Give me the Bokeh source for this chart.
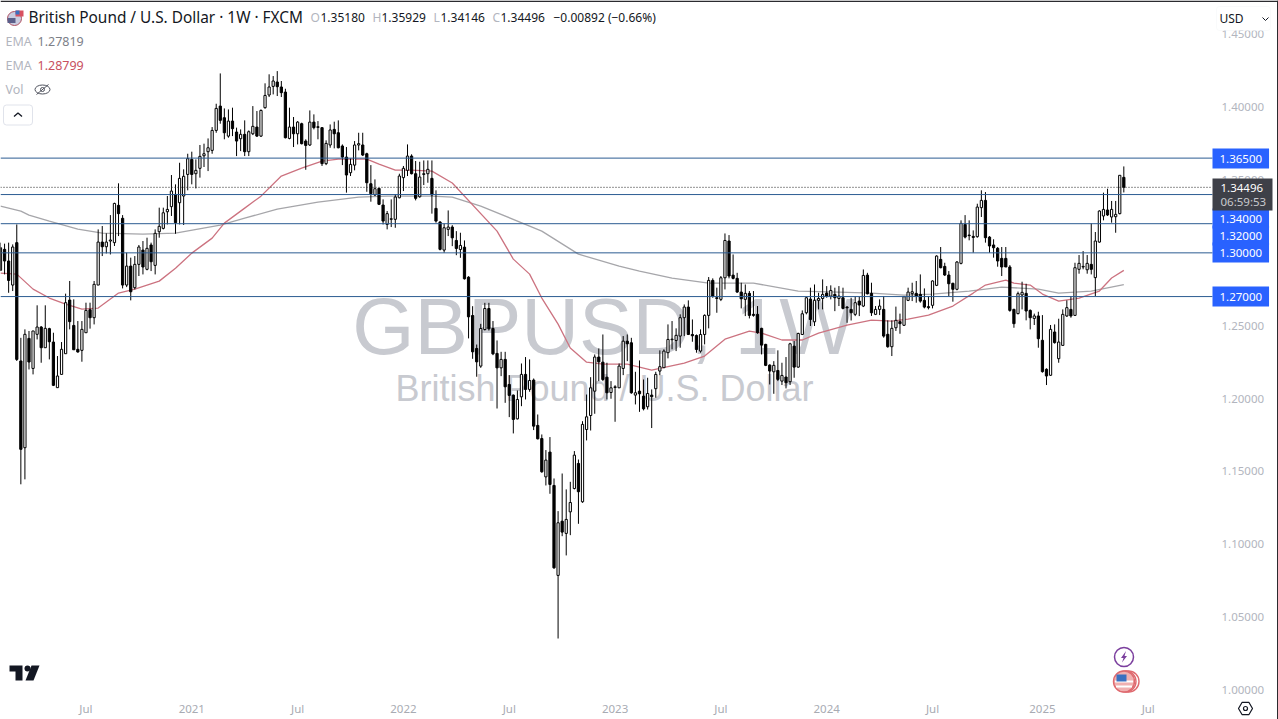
from bokeh.embed import file_html
from bokeh.resources import INLINE
from bokeh.plotting import figure
from bokeh.models import (ColumnDataSource, Label, FixedTicker, Range1d, BoxAnnotation)

opens = [1.2880,1.3024,1.2944,1.2779,1.3070,1.2258,1.1663,1.2413,1.2207,1.2441,1.2491,1.2349,1.2480,1.2388,1.2075,1.2166,1.2308,1.2676,1.2502,1.2338,
1.2331,1.2452,1.2610,1.2555,1.2779,1.3074,1.3042,1.3081,1.3070,1.3326,1.3237,1.2779,1.2909,1.2761,1.2921,1.3019,1.2887,1.3054,1.2914,1.3145,
1.3168,1.3282,1.3317,1.3401,1.3344,1.3390,1.3538,1.3641,1.3543,1.3580,1.3666,1.3694,1.3703,1.3840,
1.4007,1.3927,1.3801,1.3904,1.3829,1.3783,1.3813,1.3694,1.3817,1.3863,1.3801,1.3996,1.4083,1.4142,1.4172,1.4138,1.4103,1.3785,1.3863,1.3817,
1.3886,1.3767,1.3740,1.3897,1.3865,1.3859,1.3612,1.3740,1.3847,1.3824,1.3733,1.3657,1.3550,1.3602,1.3740,1.3740,1.3680,1.3474,1.3397,1.3442,
1.3328,1.3195,1.3230,1.3230,1.3378,1.3516,1.3566,1.3664,1.3543,1.3385,1.3538,1.3543,1.3511,1.3305,1.3211,1.3019,1.3161,
1.3177,1.3085,1.3023,1.3039,1.2833,1.2570,1.2344,1.2223,1.2474,1.2618,1.2481,1.2310,1.2211,1.2269,1.2097,1.2024,1.1861,1.2012,1.2166,1.2063,
1.2127,1.1816,1.1726,1.1463,1.1633,1.1404,1.0787,1.1159,1.1075,1.1223,1.1383,1.1555,1.1292,1.1788,1.1884,1.2051,1.2285,1.2250,1.2147,1.2042,
1.2076,1.2074,1.2207,1.2394,1.2383,1.2024,1.2051,1.2017,1.1944,
1.2024,1.2068,1.2189,1.2212,1.2315,1.2404,1.2399,1.2429,1.2555,1.2628,1.2440,1.2433,1.2326,1.2440,1.2571,1.2811,1.2692,1.2681,1.2829,1.3081,
1.2847,1.2825,1.2731,1.2681,1.2722,1.2578,1.2578,1.2482,1.2372,1.2230,1.2184,1.2193,1.2120,1.2148,1.2116,1.2360,1.2216,1.2440,1.2589,1.2683,
1.2527,1.2674,1.2687,1.2724,1.2703,1.2715,1.2687,1.2692,1.2628,1.2612,1.2578,1.2669,1.2635,1.2847,
1.2722,1.2578,1.2612,1.2612,1.2441,1.2356,1.2486,1.2528,1.2503,1.2674,1.2720,1.2722,1.2715,1.2674,1.2631,1.2640,1.2777,1.2955,1.2907,1.2848,
1.2791,1.2750,1.2928,1.3195,1.3122,1.3113,1.3111,1.3310,1.3360,1.3108,1.3054,1.3031,1.2962,1.2962,1.2903,1.2612,1.2583,1.2711,1.2722,1.2605,
1.2550,1.2567,1.2400,1.2201,1.2160,1.2457,1.2274,1.2365,1.2567,1.2612,1.2571,1.2887,1.2903,1.2884,1.2921,1.2830,1.3074,1.3253,1.3294,1.3246,
1.3248,1.3269,1.35180]
highs = [1.3070,1.3063,1.3070,1.3058,1.3195,1.2417,1.2475,1.2464,1.2464,1.2640,1.2498,1.2640,1.2486,1.2452,1.2292,1.2388,1.2720,1.2807,1.2681,1.2532,
1.2532,1.2658,1.2658,1.2807,1.3161,1.3184,1.3134,1.3259,1.3344,1.3477,1.3259,1.3001,1.2967,1.2978,1.3054,1.3081,1.3104,1.3070,1.3161,1.3310,
1.3310,1.3390,1.3534,1.3470,1.3618,1.3573,1.3680,1.3694,1.3641,1.3740,1.3749,1.3785,1.3863,1.4023,
1.4231,1.3991,1.3984,1.3996,1.3859,1.3847,1.3909,1.3840,1.4007,1.3973,1.3984,1.4163,1.4225,1.4213,1.4247,1.4179,1.4126,1.3996,1.3932,1.3904,
1.3893,1.3779,1.3977,1.3950,1.3904,1.3863,1.3772,1.3881,1.3900,1.3909,1.3744,1.3726,1.3648,1.3767,1.3824,1.3824,1.3687,1.3602,1.3504,1.3447,
1.3367,1.3287,1.3367,1.3401,1.3543,1.3596,1.3744,1.3676,1.3630,1.3625,1.3634,1.3634,1.3634,1.3429,1.3218,1.3200,1.3291,
1.3190,1.3149,1.3138,1.3085,1.2840,1.2634,1.2371,1.2513,1.2657,1.2657,1.2532,1.2399,1.2321,1.2321,1.2161,1.2028,1.2056,1.2241,1.2285,1.2269,
1.2138,1.1891,1.1754,1.1647,1.1736,1.1452,1.1228,1.1486,1.1377,1.1429,1.1640,1.1582,1.1845,1.2028,1.2147,1.2303,1.2344,1.2440,1.2246,1.2120,
1.2092,1.2241,1.2429,1.2440,1.2417,1.2184,1.2262,1.2131,1.2143,
1.2063,1.2184,1.2331,1.2338,1.2509,1.2532,1.2482,1.2578,1.2646,1.2674,1.2543,1.2440,1.2475,1.2578,1.2834,1.2825,1.2761,1.2841,1.3133,1.3122,
1.2989,1.2863,1.2795,1.2783,1.2738,1.2738,1.2635,1.2486,1.2376,1.2235,1.2257,1.2331,1.2246,1.2285,1.2383,1.2395,1.2452,1.2605,1.2697,1.2761,
1.2783,1.2726,1.2818,1.2772,1.2777,1.2761,1.2772,1.2761,1.2635,1.2692,1.2703,1.2697,1.2886,1.2863,
1.2795,1.2635,1.2681,1.2704,1.2537,1.2537,1.2631,1.2583,1.2704,1.2761,1.2795,1.2807,1.2852,1.2756,1.2704,1.2811,1.2983,1.3040,1.2932,1.2875,
1.2795,1.2944,1.3223,1.3259,1.3223,1.3154,1.3337,1.3429,1.3417,1.3115,1.3093,1.3040,1.3040,1.3040,1.2916,1.2617,1.2734,1.2802,1.2788,1.2612,
1.2583,1.2596,1.2573,1.2208,1.2505,1.2509,1.2548,1.2612,1.2674,1.2704,1.2932,1.2985,1.3012,1.2985,1.3202,1.3143,1.3292,1.3413,1.3440,1.3356,
1.3356,1.3534,1.35929]
lows = [1.2875,1.2852,1.2726,1.2738,1.2258,1.1412,1.1446,1.2200,1.2166,1.2406,1.2246,1.2349,1.2269,1.2086,1.2075,1.2166,1.2308,1.2475,1.2335,1.2315,
1.2253,1.2452,1.2480,1.2509,1.2779,1.2978,1.2996,1.2989,1.3047,1.3115,1.2756,1.2765,1.2674,1.2749,1.2841,1.2852,1.2880,1.2875,1.2852,1.3104,
1.3161,1.3195,1.3253,1.3131,1.3195,1.3191,1.3429,1.3470,1.3442,1.3516,1.3589,1.3561,1.3680,1.3824,
1.3886,1.3779,1.3790,1.3801,1.3664,1.3698,1.3664,1.3664,1.3808,1.3795,1.3795,1.3989,1.4069,1.4087,1.4076,1.4069,1.3785,1.3779,1.3726,1.3744,
1.3744,1.3570,1.3733,1.3847,1.3779,1.3596,1.3602,1.3721,1.3717,1.3717,1.3602,1.3413,1.3527,1.3566,1.3703,1.3664,1.3419,1.3351,1.3390,1.3328,
1.3195,1.3161,1.3177,1.3172,1.3374,1.3424,1.3527,1.3538,1.3360,1.3378,1.3465,1.3481,1.3269,1.3207,1.3017,1.3001,1.3115,
1.3046,1.2984,1.2966,1.2817,1.2413,1.2273,1.2150,1.2211,1.2467,1.2467,1.2298,1.1932,1.2154,1.1971,1.1873,1.1761,1.1857,1.1948,1.1994,1.2047,
1.1784,1.1720,1.1491,1.1404,1.1347,1.0832,1.0354,1.1056,1.0924,1.1063,1.1377,1.1141,1.1285,1.1713,1.1781,1.1896,1.2120,1.2120,1.1994,1.1999,
1.1841,1.2074,1.2161,1.2257,1.2033,1.1960,1.1909,1.1919,1.1925,
1.1798,1.2006,1.2161,1.2212,1.2276,1.2338,1.2326,1.2349,1.2429,1.2436,1.2390,1.2315,1.2315,1.2372,1.2482,1.2692,1.2589,1.2669,1.2749,1.2825,
1.2818,1.2726,1.2619,1.2566,1.2550,1.2562,1.2445,1.2303,1.2223,1.2097,1.2033,1.2120,1.2093,1.2070,1.2093,1.2143,1.2212,1.2436,1.2578,1.2498,
1.2498,1.2612,1.2612,1.2692,1.2681,1.2600,1.2635,1.2612,1.2520,1.2536,1.2566,1.2566,1.2628,1.2715,
1.2567,1.2573,1.2573,1.2418,1.2349,1.2292,1.2464,1.2445,1.2498,1.2669,1.2669,1.2658,1.2658,1.2619,1.2612,1.2619,1.2772,1.2894,1.2841,1.2704,
1.2665,1.2743,1.2921,1.3099,1.3086,1.3001,1.3104,1.3246,1.3070,1.3001,1.2967,1.2905,1.2841,1.2903,1.2596,1.2486,1.2578,1.2612,1.2537,1.2475,
1.2505,1.2349,1.2178,1.2093,1.2155,1.2377,1.2246,1.2361,1.2560,1.2555,1.2567,1.2857,1.2887,1.2857,1.2852,1.2704,1.3070,1.3223,1.3253,1.3207,
1.3138,1.3264,1.34146]
closes = [1.3035,1.2944,1.2811,1.3040,1.2269,1.1652,1.2441,1.2251,1.2464,1.2491,1.2349,1.2482,1.2390,1.2091,1.2155,1.2338,1.2658,1.2528,1.2335,1.2320,
1.2475,1.2605,1.2555,1.2784,1.3074,1.3042,1.3074,1.3088,1.3339,1.3269,1.2779,1.2909,1.2733,1.2921,1.3040,1.2903,1.3031,1.2939,1.3134,1.3182,
1.3275,1.3298,1.3424,1.3207,1.3511,1.3525,1.3646,1.3538,1.3566,1.3662,1.3680,1.3721,1.3840,1.3991,
1.3909,1.3824,1.3904,1.3852,1.3767,1.3813,1.3694,1.3831,1.3868,1.3801,1.3977,1.4080,1.4138,1.4179,1.4140,1.4099,1.3790,1.3863,1.3817,1.3897,
1.3749,1.3737,1.3897,1.3859,1.3861,1.3612,1.3751,1.3843,1.3817,1.3721,1.3657,1.3534,1.3607,1.3740,1.3749,1.3671,1.3481,1.3406,1.3440,1.3333,
1.3218,1.3269,1.3234,1.3383,1.3527,1.3580,1.3664,1.3543,1.3374,1.3520,1.3543,1.3573,1.3397,1.3218,1.3024,1.3172,1.3177,
1.3103,1.3030,1.3051,1.2822,1.2561,1.2321,1.2252,1.2481,1.2618,1.2479,1.2307,1.2211,1.2269,1.2081,1.2022,1.1857,1.1994,1.2166,1.2063,1.2124,
1.1811,1.1724,1.1498,1.1578,1.1411,1.0839,1.1148,1.1084,1.1171,1.1287,1.1612,1.1361,1.1823,1.1875,1.2074,1.2285,1.2252,1.2131,1.2040,1.2074,
1.2081,1.2223,1.2394,1.2376,1.2040,1.2040,1.2033,1.1930,1.2035,
1.2013,1.2166,1.2219,1.2326,1.2406,1.2408,1.2434,1.2555,1.2628,1.2440,1.2431,1.2337,1.2440,1.2571,1.2811,1.2703,1.2687,1.2829,1.3085,1.2841,
1.2825,1.2731,1.2685,1.2722,1.2571,1.2571,1.2452,1.2367,1.2228,1.2189,1.2228,1.2132,1.2159,1.2109,1.2376,1.2216,1.2447,1.2582,1.2692,1.2543,
1.2674,1.2687,1.2715,1.2703,1.2742,1.2692,1.2703,1.2619,1.2623,1.2589,1.2658,1.2642,1.2845,1.2719,
1.2589,1.2612,1.2635,1.2429,1.2356,1.2482,1.2537,1.2514,1.2699,1.2731,1.2733,1.2704,1.2669,1.2628,1.2624,1.2807,1.2978,1.2898,1.2848,1.2788,
1.2750,1.2937,1.3202,1.3108,1.3118,1.3106,1.3314,1.3360,1.3104,1.3047,1.3035,1.2944,1.2903,1.2903,1.2605,1.2514,1.2720,1.2729,1.2601,1.2555,
1.2567,1.2411,1.2185,1.2155,1.2475,1.2384,1.2388,1.2578,1.2624,1.2567,1.2898,1.2928,1.2907,1.2928,1.2887,1.3081,1.3287,1.3298,1.3260,1.3298,
1.3264,1.3532,1.34496]

ema_red_weeks = [0,4,8,12,16,20,24,29,33,39,43,47,52,55,60,64,69,74,79,83,90,93,97,101,106,111,122,126,130,133,137,140,144,148,154,160,168,173,178,184,187,192,197,201,208,214,219,223,228,234,239,242,247,249,253,256,260,265,270,273,276]
ema_red = [1.2861,1.2854,1.2751,1.2690,1.2648,1.2614,1.2621,1.2724,1.2751,1.2806,1.2895,1.2998,1.3101,1.3204,1.3307,1.3389,1.3527,1.3581,1.3630,1.3643,1.3643,1.3609,1.3568,1.3568,1.3561,1.3479,1.3149,1.2957,1.2854,1.2690,1.2511,1.2347,1.2250,1.2237,1.2237,1.2196,1.2244,1.2292,1.2408,1.2463,1.2449,1.2402,1.2402,1.2449,1.2504,1.2539,1.2532,1.2545,1.2573,1.2635,1.2724,1.2779,1.2813,1.2792,1.2779,1.2717,1.2669,1.2690,1.2738,1.2827,1.28799]
ema_gray_weeks = [0,5,7,12,19,25,35,43,54,60,68,78,88,95,106,111,118,133,142,152,157,165,174,185,196,206,214,222,229,238,246,255,260,268,276]
ema_gray = [1.3321,1.3286,1.3259,1.3218,1.3163,1.3136,1.3129,1.3136,1.3190,1.3238,1.3300,1.3348,1.3383,1.3389,1.3389,1.3383,1.3321,1.3149,1.2991,1.2909,1.2875,1.2827,1.2792,1.2792,1.2738,1.2731,1.2724,1.2710,1.2717,1.2738,1.2765,1.2751,1.2724,1.2738,1.27819]

levels = [1.365, 1.34, 1.32, 1.30, 1.27]
last_price = 1.34496
y_ticks = [1.00,1.05,1.10,1.15,1.20,1.25,1.30,1.35,1.40,1.45]
x_tick_pos = [21,47,73,99,125,151,177,203,229,256,282]
x_tick_txt = ["Jul","2021","Jul","2022","Jul","2023","Jul","2024","Jul","2025","Jul"]

W, H = 1278, 719
PANE_W, PANE_H = 1212, 697   # where the price pane ends, px
PX_WEEK = 4.07
PX_UNIT = 1457.5
x0 = 0.0
y_bottom = 1 + (689.6 - H) / PX_UNIT
y_top = y_bottom + H / PX_UNIT

def X(x): return x0 + x / PX_WEEK
def Y(y): return y_top - y / PX_UNIT
def scr_y(y): return H - y

p = figure(frame_width=W, frame_height=H, output_backend="svg", toolbar_location=None,
           x_range=Range1d(x0, x0 + W / PX_WEEK), y_range=Range1d(y_bottom, y_top),
           y_axis_location="right", min_border_left=0, min_border_right=0,
           min_border_top=0, min_border_bottom=0, outline_line_color=None)
p.grid.visible = False
ax = p.yaxis[0]
ax.fixed_location = X(PANE_W)
ax.ticker = FixedTicker(ticks=y_ticks)
ax.major_label_overrides = {t: f"{t:.5f}" for t in y_ticks}
ax.axis_line_color = None
ax.major_tick_line_color = None
ax.minor_tick_line_color = None
ax.major_tick_out = 0
ax.major_tick_in = 0
ax.major_label_text_color = "#b2b5be"
ax.major_label_text_font = "Noto Sans"
ax.major_label_text_font_size = "11.5px"
ax.major_label_standoff = 9
bx = p.xaxis[0]
bx.fixed_location = Y(PANE_H)
bx.ticker = FixedTicker(ticks=x_tick_pos)
bx.major_label_overrides = dict(zip(x_tick_pos, x_tick_txt))
bx.axis_line_color = None
bx.major_tick_line_color = None
bx.minor_tick_line_color = None
bx.major_tick_out = 0
bx.major_tick_in = 0
bx.major_label_text_color = "#a8abb3"
bx.major_label_text_font = "Noto Sans"
bx.major_label_text_font_size = "11.5px"
bx.major_label_standoff = 3

# watermark
p.add_layout(Label(x=603, x_units="screen", y=scr_y(326), y_units="screen", text="GBPUSD, 1W", text_align="center",
                   text_baseline="middle", text_font="Liberation Sans", text_font_size="80px",
                   text_color="#c8cad0", level="underlay"))
p.add_layout(Label(x=604, x_units="screen", y=scr_y(388), y_units="screen", text="British Pound / U.S. Dollar", text_align="center",
                   text_baseline="middle", text_font="Liberation Sans", text_font_size="36px",
                   text_color="#c8cad0", level="underlay"))

# EMA
p.line(ema_gray_weeks, ema_gray, line_color="#a6a6aa", line_width=1.3)
p.line(ema_red_weeks, ema_red, line_color="#cc7380", line_width=1.3)

# candles
weeks = list(range(len(opens)))
src = ColumnDataSource(dict(x=weeks, o=opens, h=highs, l=lows, c=closes,
    top=[max(a, b) for a, b in zip(opens, closes)], bot=[min(a, b) for a, b in zip(opens, closes)],
    fill=["#000000" if c < o else "#ffffff" for o, c in zip(opens, closes)]))
p.segment("x", "h", "x", "l", source=src, line_color="#000000", line_width=1)
p.vbar("x", 0.55, "bot", "top", source=src, fill_color="fill", line_color="#000000", line_width=1)

# levels
pane_end = X(PANE_W)
p.segment([x0] * len(levels), levels, [pane_end] * len(levels), levels, line_color="#2c5c92", line_width=1)
p.segment([x0], [last_price], [pane_end], [last_price], line_color="#222222", line_width=1, line_dash="1 2")

# price tags
TAGX = PANE_W
def tag(t, y, bg, color="#ffffff"):
    p.add_layout(Label(x=TAGX, x_units="screen", y=scr_y(y), y_units="screen", text=t, text_font="Noto Sans",
                       text_font_size="11.5px", text_color=color, text_baseline="middle",
                       background_fill_color=bg, padding=(7, 6)))
tag("1.36500", 158, "#2962ff")
tag("1.34000", 218, "#2962ff")
tag("1.32000", 235, "#2962ff")
tag("1.30000", 252, "#2962ff")
tag("1.27000", 296, "#2962ff")
p.add_layout(BoxAnnotation(left=1212, right=1272, top=scr_y(178), bottom=scr_y(210), left_units="screen", right_units="screen",
                           top_units="screen", bottom_units="screen", fill_color="#3e4048", fill_alpha=1, line_color=None))
for t, y, col in [("1.34496", 187, "#ffffff"), ("06:59:53", 201, "#c8c9cd")]:
    p.add_layout(Label(x=TAGX + 8, x_units="screen", y=scr_y(y), y_units="screen", text=t, text_font="Noto Sans",
                       text_font_size="11.5px", text_color=col, text_baseline="middle"))

# header
def txt(t, x, y, color="#131722", size="12.5px", align="left", font="Noto Sans", style="normal"):
    p.add_layout(Label(x=x, x_units="screen", y=scr_y(y), y_units="screen", text=t, text_color=color, text_font=font,
                       text_font_size=size, text_baseline="middle", text_align=align, text_font_style=style))
txt("British Pound / U.S. Dollar · 1W · FXCM", 28, 17, size="15.4px")
ohlc = [("O", 310, "#b2b5be"), ("1.35180", 320, "#131722"), ("H", 372, "#b2b5be"), ("1.35929", 381, "#131722"),
        ("L", 433, "#b2b5be"), ("1.34146", 440, "#131722"), ("C", 492, "#b2b5be"), ("1.34496", 500, "#131722"),
        ("−0.00892 (−0.66%)", 553, "#131722")]
for t, x, c in ohlc:
    txt(t, x, 17, color=c, size="12px")
txt("EMA", 5, 41, color="#b2b5be")
txt("1.27819", 37, 41, color="#7d8088")
txt("EMA", 5, 65, color="#b2b5be")
txt("1.28799", 37, 65, color="#c8505f")
txt("Vol", 5, 89, color="#b2b5be")

# flag icon
p.scatter([X(14)], [Y(18)], size=14, fill_color="#c9cce0", line_color="#b05060", line_width=1)
p.rect([X(11)], [Y(20)], 8, 5, width_units="screen", height_units="screen", fill_color="#5a5f8a", line_color=None)
p.rect([X(19)], [Y(13)], 8, 6, width_units="screen", height_units="screen", fill_color="#d85060", line_color=None)
p.rect([X(17)], [Y(12)], 4, 4, width_units="screen", height_units="screen", fill_color="#3a70c0", line_color=None)
# eye
p.ellipse([X(42)], [Y(89)], 15, 9, width_units="screen", height_units="screen", fill_color=None, line_color="#50535e", line_width=1)
p.line([X(36), X(48)], [Y(94), Y(84)], line_color="#50535e", line_width=1)
p.scatter([X(42)], [Y(89)], size=4, fill_color=None, line_color="#50535e")
# collapse button
p.rect([X(17.5)], [Y(114.5)], 29, 20, width_units="screen", height_units="screen", fill_color="#ffffff", line_color="#e0e3eb", border_radius=3)
p.line([X(13.5), X(17.5), X(21.5)], [Y(116), Y(112.5), Y(116)], line_color="#131722", line_width=1.3)
# tv logo
p.patch([X(9), X(22), X(22), X(15), X(15), X(9)], [Y(665), Y(665), Y(680), Y(680), Y(671), Y(671)], fill_color="#131722", line_color=None)
p.scatter([X(27)], [Y(668)], size=6, fill_color="#131722", line_color=None)
p.patch([X(31), X(39), X(33), X(25)], [Y(665), Y(665), Y(680), Y(680)], fill_color="#131722", line_color=None)
# events
p.scatter([X(1123.5)], [Y(656.5)], size=19, fill_color="#ffffff", line_color="#7b3f9e", line_width=1.5)
p.patch([X(1125.5), X(1120.5), X(1123), X(1121.5), X(1126.5), X(1124)], [Y(650.5), Y(657.5), Y(657.5), Y(662), Y(655.5), Y(655.5)], fill_color="#7b3f9e", line_color=None)
p.scatter([X(1128), X(1125)], [Y(681), Y(681)], size=21, fill_color="#ffffff", line_color="#df6a6f", line_width=1.4)
p.scatter([X(1123.5)], [Y(681)], size=21, fill_color="#f0b0b0", line_color="#df6a6f", line_width=1.4)
p.rect([X(1123.5)], [Y(681)], 18, 2, width_units="screen", height_units="screen", fill_color="#ffffff", line_color=None)
p.rect([X(1123.5)], [Y(686)], 16, 2, width_units="screen", height_units="screen", fill_color="#ffffff", line_color=None)
p.rect([X(1121)], [Y(677.5)], 10, 7, width_units="screen", height_units="screen", fill_color="#3a70c0", line_color=None)
# settings icon
p.scatter([X(1245)], [Y(708)], marker="hex", size=14, fill_color=None, line_color="#131722", line_width=1.2)
p.scatter([X(1245)], [Y(708)], size=4, fill_color=None, line_color="#131722", line_width=1.2)

# USD box
p.add_layout(BoxAnnotation(left=1216, right=1270, top=scr_y(6), bottom=scr_y(30), left_units="screen", right_units="screen",
                           top_units="screen", bottom_units="screen", fill_color="#ffffff", fill_alpha=1, line_color="#eceef2", border_radius=3))
txt("USD", 1219, 18, size="12px")
p.line([X(1262), X(1265), X(1268)], [Y(17), Y(20), Y(17)], line_color="#131722", line_width=1, level="overlay")

# window edges
p.add_layout(BoxAnnotation(left=0, right=1278, top=scr_y(0), bottom=scr_y(1.5), left_units="screen", right_units="screen",
                           top_units="screen", bottom_units="screen", fill_color="#2b2b2f", fill_alpha=1, line_color=None))
p.add_layout(BoxAnnotation(left=1276.5, right=1278, top=scr_y(0), bottom=scr_y(719), left_units="screen", right_units="screen",
                           top_units="screen", bottom_units="screen", fill_color="#2b2b2f", fill_alpha=1, line_color=None))

open("out.html", "w").write(file_html(p, INLINE))
